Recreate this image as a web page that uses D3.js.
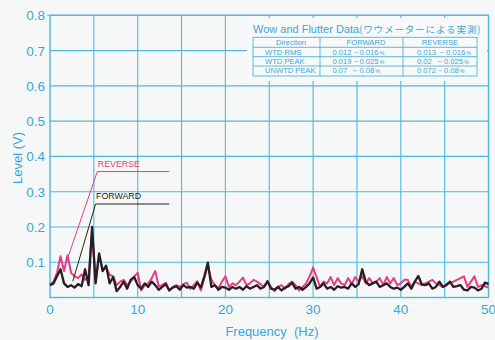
<!DOCTYPE html>
<html><head><meta charset="utf-8">
<script src="https://cdn.jsdelivr.net/npm/d3@7"></script>
<style>
html,body{margin:0;padding:0;background:#f6f8f7;}
svg{display:block;font-family:"Liberation Sans",Arial,sans-serif;}
</style></head>
<body>
<svg id="chart" width="495" height="340"></svg>
<script>
// ---- data ----
const freqStep = 0.4; // Hz between samples
const forwardLevel = [
0.035,0.040,0.060,0.080,0.040,0.030,0.035,0.028,0.038,0.032,
0.080,0.035,0.200,0.040,0.125,0.075,0.090,0.040,0.058,0.018,
0.030,0.045,0.025,0.050,0.058,0.035,0.025,0.040,0.030,0.045,
0.035,0.022,0.030,0.038,0.020,0.028,0.032,0.022,0.035,0.028,
0.030,0.025,0.042,0.028,0.060,0.099,0.030,0.035,0.022,0.030,
0.028,0.022,0.030,0.025,0.030,0.022,0.032,0.025,0.030,0.035,
0.025,0.030,0.046,0.025,0.022,0.030,0.020,0.028,0.032,0.042,
0.025,0.030,0.022,0.030,0.040,0.057,0.025,0.030,0.040,0.025,
0.030,0.022,0.032,0.028,0.030,0.025,0.040,0.030,0.038,0.080,
0.045,0.035,0.040,0.045,0.030,0.035,0.040,0.030,0.025,0.028,
0.022,0.030,0.040,0.025,0.045,0.061,0.037,0.035,0.040,0.025,
0.030,0.045,0.030,0.035,0.045,0.030,0.032,0.035,0.022,0.020,
0.030,0.028,0.020,0.025,0.042,0.038];
const reverseLevel = [
0.037,0.045,0.070,0.117,0.075,0.120,0.070,0.060,0.055,0.065,
0.050,0.060,0.190,0.045,0.120,0.080,0.085,0.065,0.060,0.035,
0.045,0.050,0.035,0.045,0.060,0.070,0.020,0.035,0.040,0.055,
0.075,0.032,0.035,0.042,0.020,0.030,0.035,0.030,0.038,0.042,
0.025,0.035,0.046,0.020,0.055,0.090,0.050,0.035,0.026,0.045,
0.060,0.030,0.040,0.035,0.045,0.056,0.035,0.040,0.050,0.045,
0.038,0.030,0.045,0.030,0.018,0.030,0.035,0.025,0.038,0.045,
0.035,0.020,0.030,0.040,0.060,0.085,0.057,0.030,0.045,0.040,
0.058,0.035,0.055,0.040,0.035,0.055,0.038,0.058,0.045,0.060,
0.040,0.055,0.040,0.045,0.055,0.035,0.058,0.040,0.055,0.035,
0.040,0.050,0.050,0.030,0.045,0.040,0.035,0.040,0.045,0.050,
0.040,0.035,0.030,0.038,0.040,0.045,0.050,0.055,0.060,0.030,
0.045,0.060,0.030,0.035,0.032,0.028];
const xTickLabels = [0,10,20,30,40,50];
const xGrid = [5,10,15,20,25,30,35,40,45];
const yTickLabels = [0.1,0.2,0.3,0.4,0.5,0.6,0.7,0.8];
// legend callouts: [label start f, label end f, level, pointer f, pointer level]
const reverseCallout = [5.4, 13.6, 0.357, 2.1, 0.118];
const forwardCallout = [5.2, 13.6, 0.265, 2.6, 0.046];
const tableTitle = "Wow and Flutter Data";
const tableTitleJa = "(ワウメーターによる実測)";
const tableHeader = ["Direction","FORWARD","REVERSE"];
const tableRows = [
  ["WTD RMS","0.012－0.016","0.013 －0.016"],
  ["WTD PEAK","0.019－0.025","0.02  ～0.025"],
  ["UNWTD PEAK","0.07  ～0.08","0.072－0.08"]
];

// ---- drawing ----
const cyan = "#38a6d6", grid = "#4fb8dc";
const svg = d3.select("#chart");
const x = d3.scaleLinear().domain([0,50]).range([50,488.5]);
const y = d3.scaleLinear().domain([0,0.8]).range([297.5,15.3]);

const g = svg.append("g");
// grid
g.selectAll(".vg").data(xGrid).join("line")
  .attr("x1",d=>x(d)).attr("x2",d=>x(d)).attr("y1",y(0)).attr("y2",y(0.8))
  .attr("stroke",grid).attr("stroke-width",1.1);
g.selectAll(".hg").data(yTickLabels).join("line")
  .attr("x1",x(0)).attr("x2",x(50)).attr("y1",d=>y(d)).attr("y2",d=>y(d))
  .attr("stroke",grid).attr("stroke-width",1.1);
// frame
g.append("rect").attr("x",x(0)).attr("y",y(0.8)).attr("width",x(50)-x(0)).attr("height",y(0)-y(0.8))
  .attr("fill","none").attr("stroke",grid).attr("stroke-width",1.4);
g.append("line").attr("x1",x(0)-3).attr("x2",x(0)).attr("y1",y(0.8)).attr("y2",y(0.8)).attr("stroke",grid);

// axes labels
svg.selectAll(".yl").data(yTickLabels).join("text")
  .attr("x",45).attr("y",d=>y(d)+5).attr("text-anchor","end")
  .attr("font-size",13.5).attr("fill",cyan).text(d=>d.toFixed(1));
svg.selectAll(".xl").data(xTickLabels).join("text")
  .attr("x",d=>x(d)).attr("y",313.5).attr("text-anchor","middle")
  .attr("font-size",13.5).attr("fill",cyan).text(d=>d);
svg.append("text").attr("transform","translate(22,158) rotate(-90)")
  .attr("text-anchor","middle").attr("font-size",13).attr("fill",cyan).text("Level (V)");
svg.append("text").attr("x",272).attr("y",336).attr("text-anchor","middle")
  .attr("font-size",13).attr("fill",cyan).style("white-space","pre")
  .text("Frequency  (Hz)");

// lines
const line = d3.line().x((d,i)=>x(i*freqStep)).y(d=>y(d));
svg.append("path").datum(reverseLevel).attr("d",line).attr("fill","none")
  .attr("stroke","#e63c86").attr("stroke-width",2).attr("stroke-linejoin","round");
svg.append("path").datum(forwardLevel).attr("d",line).attr("fill","none")
  .attr("stroke","#2a1d22").attr("stroke-width",2.3).attr("stroke-linejoin","round");

// callouts
function callout(c, color, label){
  const pts = [[c[1],c[2]],[c[0],c[2]],[c[3],c[4]]];
  svg.append("path").attr("d", d3.line().x(d=>x(d[0])).y(d=>y(d[1]))(pts))
    .attr("fill","none").attr("stroke",color).attr("stroke-width",1);
  svg.append("text").attr("x",x(c[0])+0.5).attr("y",y(c[2])-5)
    .attr("font-size",8.8).attr("fill",color).text(label);
}
callout(reverseCallout,"#e63c86","REVERSE");
callout(forwardCallout,"#2a1d22","FORWARD");

// table area
svg.append("rect").attr("x",247).attr("y",18).attr("width",240).attr("height",63).attr("fill","#f8faf9");
const tt = svg.append("text").attr("x",253).attr("y",33).attr("fill",cyan).attr("font-size",11);
tt.append("tspan").text(tableTitle);
tt.append("tspan").attr("font-family","'Noto Sans CJK JP'").attr("font-size",9.6).attr("letter-spacing",0.8).text(tableTitleJa);

const colX = [253,320,403,477];
const rowY = [37.3,47.3,56.7,66,76];
const tg = svg.append("g").attr("stroke",cyan).attr("stroke-width",0.8);
colX.forEach(cx=>tg.append("line").attr("x1",cx).attr("x2",cx).attr("y1",rowY[0]).attr("y2",rowY[4]));
rowY.forEach(ry=>tg.append("line").attr("x1",colX[0]).attr("x2",colX[3]).attr("y1",ry).attr("y2",ry));
tableHeader.forEach((h,j)=>{
  svg.append("text").attr("x",[291,366,440][j]).attr("y",rowY[0]+7.8).attr("text-anchor","middle")
    .attr("font-size",7.6).attr("fill",cyan).text(h);
});
tableRows.forEach((r,i)=>{
  const by = rowY[i+1]+7.4;
  svg.append("text").attr("x",265).attr("y",by).attr("font-size",7.6).attr("fill",cyan).text(r[0]);
  [1,2].forEach(j=>{
    const t = svg.append("text").attr("x",[0,332.5,417][j]).attr("y",by).attr("font-size",7.6)
      .attr("fill",cyan).style("white-space","pre");
    t.append("tspan").text(r[j]);
    t.append("tspan").attr("font-size",5.5).attr("dx",1).text("%");
  });
});
</script>
</body></html>
